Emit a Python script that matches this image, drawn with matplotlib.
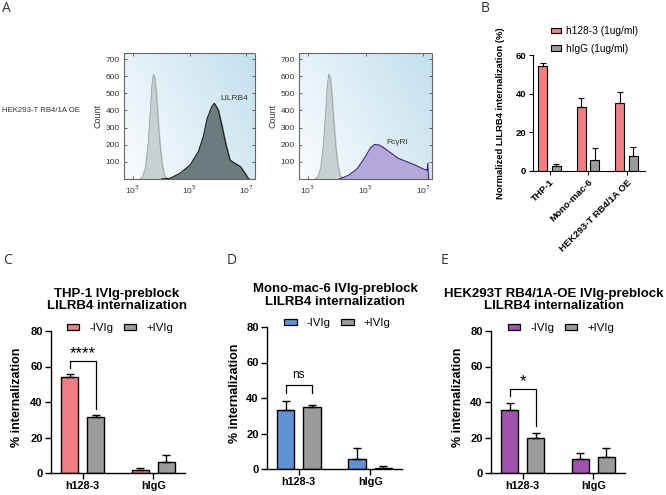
import numpy as np
import matplotlib
matplotlib.use("Agg")
import matplotlib.pyplot as plt
from matplotlib.colors import LinearSegmentedColormap
from matplotlib.patches import Patch

plt.rcParams['font.family'] = ['Liberation Sans', 'DejaVu Sans']

W, H = 666, 495

# ---------------- data ----------------
# Panel A histograms (log10 fluorescence, count)
iso_logx = [3.25, 3.35, 3.45, 3.55, 3.62, 3.68, 3.73, 3.78, 3.84, 3.90, 3.97, 4.05, 4.12, 4.20, 4.30]
iso_count = [0, 12, 65, 210, 390, 545, 612, 592, 490, 340, 190, 75, 22, 5, 0]

lilrb4_logx = [4.00, 4.31, 4.66, 5.02, 5.31, 5.48, 5.62, 5.78, 5.87, 6.01, 6.13, 6.28, 6.42, 6.59, 6.79, 6.95, 7.06, 7.10]
lilrb4_count = [0, 4, 33, 82, 160, 247, 354, 422, 442, 402, 315, 198, 111, 92, 72, 33, 4, 0]

fcgr_logx = [4.08, 4.43, 4.72, 4.96, 5.16, 5.31, 5.48, 5.66, 5.89, 6.13, 6.42, 6.71, 7.00, 7.10, 7.13, 7.15, 7.18]
fcgr_count = [0, 23, 62, 121, 179, 202, 198, 179, 150, 121, 101, 82, 58, 53, 50, 92, 0]

# Panel B
b_groups = ["THP-1", "Mono-mac-6", "HEK293-T RB4/1A OE"]
b_h128 = [54.4, 33.3, 35.0]
b_h128_err = [1.4, 4.3, 5.7]
b_higg = [2.4, 5.5, 7.8]
b_higg_err = [0.9, 6.1, 4.7]

# Panels C-E
cde_groups = ["h128-3", "hIgG"]
c_minus = [54.3, 1.7]
c_minus_err = [1.7, 0.9]
c_plus = [31.4, 6.0]
c_plus_err = [1.1, 4.3]

d_minus = [33.2, 5.5]
d_minus_err = [5.1, 6.2]
d_plus = [34.8, 0.8]
d_plus_err = [1.2, 1.1]

e_minus = [35.5, 7.7]
e_minus_err = [4.1, 3.4]
e_plus = [19.9, 9.2]
e_plus_err = [2.4, 4.7]

# significance: (top, left leg bottom, right leg bottom, label, label y)
c_sig = (63.0, 59.3, 36.0, "****", 67.5)
d_sig = (47.3, 43.0, 43.0, "ns", 53.0)
e_sig = (47.1, 43.4, 26.5, "*", 51.5)

RED = "#F07E82"
GREY = "#9B9B9B"
BLUE = "#5D93D6"
PURPLE = "#A052AE"

fig = plt.figure(figsize=(W / 100, H / 100), dpi=100)


def ax_px(x0, x1, y0, y1):
    return fig.add_axes([x0 / W, 1 - y1 / H, (x1 - x0) / W, (y1 - y0) / H])


def fpx(x, y):
    return (x / W, 1 - y / H)


# panel letters
for letter, (x, y) in {"A": (2, 9), "B": (481, 8), "C": (3, 261), "D": (227, 261), "E": (441, 261)}.items():
    fig.text(*fpx(x, y), letter, fontsize=10, family=['Open Sans', 'DejaVu Sans'],
             color="#333333", ha="left", va="center")

# ---------------- Panel A ----------------
cmap_bg = LinearSegmentedColormap.from_list("bg", ["#fafcfe", "#c3e0ee"])
gx, gy = np.meshgrid(np.linspace(0, 1, 50), np.linspace(0, 1, 50))
grad = 0.65 * gx + 0.35 * (1 - gy)


def hist_axes(ax, curve_x, curve_y, fill, edge, label, label_xy):
    ax.imshow(grad, extent=[0, 1, 0, 1], transform=ax.transAxes, aspect="auto",
              cmap=cmap_bg, origin="upper", zorder=0)
    ax.set_xscale("log")
    ax.set_xlim(10 ** 2.7, 10 ** 7.3)
    ax.set_ylim(0, 735)
    ix = 10 ** np.array(iso_logx)
    ax.fill_between(ix, iso_count, color="#c9d0d2", zorder=2)
    ax.plot(ix, iso_count, color="#98a2a4", lw=0.6, zorder=3)
    cx = 10 ** np.array(curve_x)
    ax.fill_between(cx, curve_y, color=fill, zorder=2)
    ax.plot(cx, curve_y, color=edge, lw=0.7, zorder=3)
    ax.set_xticks([1e3, 1e5, 1e7])
    ax.set_xticklabels(["10$^3$", "10$^5$", "10$^7$"])
    ax.xaxis.set_minor_locator(matplotlib.ticker.NullLocator())
    ax.set_yticks([100, 200, 300, 400, 500, 600, 700])
    ax.tick_params(labelsize=6, colors="#333333", length=2, width=0.5, direction="in",
                   top=True, right=True, pad=3)
    for s in ax.spines.values():
        s.set_linestyle((0, (1, 1)))
        s.set_color("#666666")
        s.set_linewidth(0.8)
    ax.set_ylabel("Count", fontsize=6.5, color="#333333", labelpad=2)
    ax.text(*label_xy, label, fontsize=6, color="#333333", transform=fig.transFigure,
            ha="center", va="center", zorder=5)


ax1 = ax_px(124, 255, 53, 179)
hist_axes(ax1, lilrb4_logx, lilrb4_count, "#6b7c7f", "#151515", "LILRB4", fpx(234, 99))
ax2 = ax_px(299, 432, 53, 179)
hist_axes(ax2, fcgr_logx, fcgr_count, "#b3a8d9", "#2e2470", "FcγRI", fpx(397, 142))
fig.text(*fpx(2, 110), "HEK293-T RB4/1A OE", fontsize=5.6, color="#333333", ha="left", va="center")

# ---------------- Panel B ----------------
axb = ax_px(533, 645, 55.3, 170.7)
xb = np.arange(len(b_groups))
bw = 0.235
axb.bar(xb - 0.19, b_h128, bw, color=RED, edgecolor="black", lw=0.8, zorder=2,
        yerr=[np.zeros(3), b_h128_err], capsize=2.5, error_kw=dict(lw=0.8, capthick=0.8))
axb.bar(xb + 0.17, b_higg, bw, color=GREY, edgecolor="black", lw=0.8, zorder=2,
        yerr=[np.zeros(3), b_higg_err], capsize=2.5, error_kw=dict(lw=0.8, capthick=0.8))
axb.set_xlim(-0.44, 2.47)
axb.set_ylim(0, 60)
axb.set_yticks([0, 20, 40, 60])
axb.set_xticks(xb)
axb.set_xticklabels(b_groups, rotation=45, ha="right", rotation_mode="anchor", fontweight="bold")
axb.tick_params(labelsize=6.8, length=3, width=0.8, pad=2)
for lab in axb.get_yticklabels():
    lab.set_fontweight("bold")
axb.spines["top"].set_visible(False)
axb.spines["right"].set_visible(False)
axb.spines["bottom"].set_linestyle((0, (1.5, 1)))
axb.set_ylabel("Normalized LILRB4 internalization (%)", fontsize=6.8, fontweight="bold")
axb.yaxis.set_label_coords((505 - 533) / 112, 0.5)
hb = [Patch(facecolor=RED, edgecolor="black", lw=0.8), Patch(facecolor=GREY, edgecolor="black", lw=0.8)]
fig.legend(hb, ["h128-3 (1ug/ml)", "hIgG (1ug/ml)"], loc="upper left", bbox_to_anchor=fpx(551, 26),
           frameon=False, fontsize=7.3, handlelength=1.0, handleheight=0.5, handletextpad=0.5,
           labelspacing=0.75, borderpad=0, borderaxespad=0)


# ---------------- Panels C-E ----------------
def cde_panel(box, color, minus, minus_err, plus, plus_err, sig, title, title_c, leg_c, ylab_x):
    ax = ax_px(*box)
    x = np.arange(2)
    w = 0.246
    ax.bar(x - 0.183, minus, w, color=color, edgecolor="black", lw=1.0, zorder=2,
           yerr=[np.zeros(2), minus_err], capsize=3, error_kw=dict(lw=1.0, capthick=1.0))
    ax.bar(x + 0.183, plus, w, color=GREY, edgecolor="black", lw=1.0, zorder=2,
           yerr=[np.zeros(2), plus_err], capsize=3, error_kw=dict(lw=1.0, capthick=1.0))
    ax.set_xlim(-0.444, 1.444)
    ax.set_ylim(0, 80)
    ax.set_yticks([0, 20, 40, 60, 80])
    ax.set_xticks(x)
    ax.set_xticklabels(cde_groups, fontweight="bold", fontsize=7.8)
    for lab in ax.get_yticklabels():
        lab.set_fontweight("bold")
        lab.set_fontsize(8)
    ax.tick_params(length=4, width=1.0, pad=2)
    ax.spines["top"].set_visible(False)
    ax.spines["right"].set_visible(False)
    ax.spines["left"].set_linewidth(1.0)
    ax.spines["bottom"].set_linewidth(1.0)
    ax.set_ylabel("% internalization", fontsize=9, fontweight="bold")
    ax.yaxis.set_label_coords(ylab_x, 0.53)
    top, l_bot, r_bot, lab, lab_y = sig
    xl, xr = -0.183, 0.183
    ax.plot([xl, xl, xr, xr], [l_bot, top, top, r_bot], color="black", lw=0.9, zorder=3)
    ax.text(0, lab_y, lab, ha="center", va="center", fontsize=12 if lab != "ns" else 8.5)
    fig.text(*fpx(*title_c), title, ha="center", va="center", fontsize=9.5,
             fontweight="bold", linespacing=1.05)
    hs = [Patch(facecolor=color, edgecolor="black", lw=0.9), Patch(facecolor=GREY, edgecolor="black", lw=0.9)]
    fig.legend(hs, ["-IVIg", "+IVIg"], loc="center", bbox_to_anchor=fpx(*leg_c), ncol=2,
               frameon=False, fontsize=8.2, handlelength=1.1, handleheight=0.5,
               handletextpad=0.9, columnspacing=0.9, borderpad=0)
    return ax


cde_panel((51, 185, 331, 473), RED, c_minus, c_minus_err, c_plus, c_plus_err, c_sig,
          "THP-1 IVIg-preblock\nLILRB4 internalization", (117, 300), (120, 328), -0.209)
cde_panel((267, 402, 327, 469), BLUE, d_minus, d_minus_err, d_plus, d_plus_err, d_sig,
          "Mono-mac-6 IVIg-preblock\nLILRB4 internalization", (335, 295.5), (337.5, 323), -0.195)
cde_panel((491, 625, 331, 473), PURPLE, e_minus, e_minus_err, e_plus, e_plus_err, e_sig,
          "HEK293T RB4/1A-OE IVIg-preblock\nLILRB4 internalization", (554, 300), (561, 328), -0.2)

fig.savefig("out.png", dpi=100)
